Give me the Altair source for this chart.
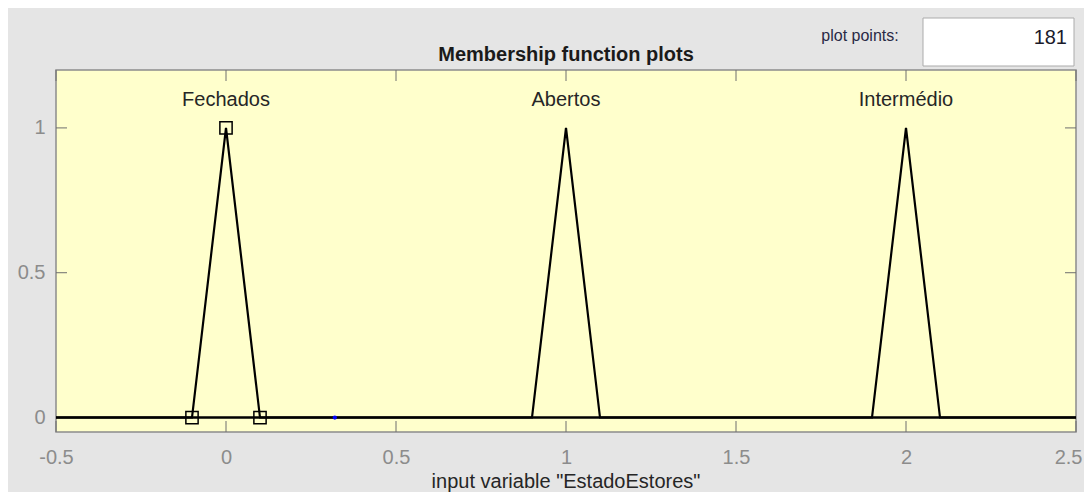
import altair as alt
import pandas as pd

# ---- data ----
mf_names = ["Fechados", "Abertos", "Intermédio"]
mf_a = [-0.1, 0.9, 1.9]
mf_b = [0.0, 1.0, 2.0]
mf_c = [0.1, 1.1, 2.1]
x_range = [-0.5, 2.5]
y_range = [-0.05, 1.2]
x_ticks = [-0.5, 0, 0.5, 1, 1.5, 2, 2.5]
y_ticks = [0, 0.5, 1]
label_level = 1.095
selected_mf = 0
cursor_x = [0.32]
cursor_y = [0.0]
plot_points = "181"
title_text = "Membership function plots"
x_title = 'input variable "EstadoEstores"'

FONT = "Liberation Sans"
FS = 20
W, H = 1020, 362

# ---- build tables ----
rows = []
for i, n in enumerate(mf_names):
    xs_ = [x_range[0], mf_a[i], mf_b[i], mf_c[i], x_range[1]]
    ys_ = [0, 0, 1, 0, 0]
    for k, (xv, yv) in enumerate(zip(xs_, ys_)):
        rows.append({"mf": n, "x": xv, "y": yv, "k": k})
lines_df = pd.DataFrame(rows)

sq_df = pd.DataFrame({
    "x": [mf_a[selected_mf], mf_b[selected_mf], mf_c[selected_mf]],
    "y": [0, 1, 0],
})
lab_df = pd.DataFrame({"mf": mf_names, "x": mf_b, "y": [label_level] * 3})
cur_df = pd.DataFrame({"x": cursor_x, "y": cursor_y})
xt_df = pd.DataFrame({"x": x_ticks})
yt_df = pd.DataFrame({"y": y_ticks})
one = pd.DataFrame({"a": [0]})

xs = alt.Scale(domain=x_range, nice=False, zero=False)
ys = alt.Scale(domain=y_range, nice=False, zero=False)

last_x = x_ticks[-1]
x_axis = alt.Axis(values=x_ticks, ticks=False, domain=False, grid=False,
                  labelColor="#8C8C8C", labelFontSize=FS, labelFont=FONT,
                  labelPadding=15, title=None, labelExpr="datum.value",
                  labelFlush=False, labelBound=False,
                  labelAlign={"condition": {"test": f"datum.value == {last_x}",
                                            "value": "right"},
                              "value": "center"},
                  labelOffset={"condition": {"test": f"datum.value == {last_x}",
                                             "value": 6},
                               "value": 0})
y_axis = alt.Axis(values=y_ticks, ticks=False, domain=False, grid=False,
                  labelColor="#8C8C8C", labelFontSize=FS, labelFont=FONT,
                  labelPadding=11, title=None, labelExpr="datum.value",
                  labelFlush=False)

lines = alt.Chart(lines_df).mark_line(color="black", strokeWidth=2.2).encode(
    x=alt.X("x:Q", scale=xs, axis=x_axis),
    y=alt.Y("y:Q", scale=ys, axis=y_axis),
    detail="mf:N",
    order="k:Q",
)

squares = alt.Chart(sq_df).mark_point(shape="square", size=150, filled=False,
                                      color="black", strokeWidth=1.5,
                                      opacity=1).encode(
    x=alt.X("x:Q", scale=xs), y=alt.Y("y:Q", scale=ys))

labels = alt.Chart(lab_df).mark_text(fontSize=FS, font=FONT, color="#262626",
                                     align="center", baseline="middle").encode(
    x=alt.X("x:Q", scale=xs), y=alt.Y("y:Q", scale=ys), text="mf:N")

cursor = alt.Chart(cur_df).mark_point(shape="circle", size=18, filled=True,
                                      color="#0000FF", opacity=1).encode(
    x=alt.X("x:Q", scale=xs), y=alt.Y("y:Q", scale=ys))

tick_col = "#6E6E6E"
top_ticks = alt.Chart(xt_df).mark_rule(color=tick_col, strokeWidth=1).encode(
    x=alt.X("x:Q", scale=xs), y=alt.value(0), y2=alt.value(11))
bot_ticks = alt.Chart(xt_df).mark_rule(color=tick_col, strokeWidth=1).encode(
    x=alt.X("x:Q", scale=xs), y=alt.value(H - 11), y2=alt.value(H))
left_ticks = alt.Chart(yt_df).mark_rule(color=tick_col, strokeWidth=1).encode(
    y=alt.Y("y:Q", scale=ys), x=alt.value(0), x2=alt.value(11))
right_ticks = alt.Chart(yt_df).mark_rule(color=tick_col, strokeWidth=1).encode(
    y=alt.Y("y:Q", scale=ys), x=alt.value(W - 11), x2=alt.value(W))

title = alt.Chart(one).mark_text(fontSize=FS, font=FONT, fontWeight="bold",
                                 color="#1a1a1a", align="center",
                                 baseline="middle").encode(
    x=alt.value(510), y=alt.value(-15), text=alt.value(title_text))

xtitle = alt.Chart(one).mark_text(fontSize=FS, font=FONT, color="#262626",
                                  align="center", baseline="middle").encode(
    x=alt.value(510), y=alt.value(H + 50), text=alt.value(x_title))

box = alt.Chart(one).mark_rect(fill="white", stroke="#ABABAB",
                               strokeWidth=1).encode(
    x=alt.value(867), x2=alt.value(1018), y=alt.value(-52), y2=alt.value(-4))
box_txt = alt.Chart(one).mark_text(fontSize=FS, font=FONT, color="#1a1a2a",
                                   align="right", baseline="middle").encode(
    x=alt.value(1011), y=alt.value(-32), text=alt.value(plot_points))
pp_txt = alt.Chart(one).mark_text(fontSize=16, font=FONT, color="#2a2a45",
                                  align="center", baseline="middle").encode(
    x=alt.value(804), y=alt.value(-34), text=alt.value("plot points:"))

chart = alt.layer(
    top_ticks, bot_ticks, left_ticks, right_ticks,
    lines, squares, cursor, labels, title, xtitle, box, box_txt, pp_txt,
).properties(
    width=W, height=H,
    background="#E5E5E5",
    autosize=alt.AutoSizeParams(type="none"),
    padding={"left": 48, "top": 62, "right": 8, "bottom": 60},
).configure_view(
    fill="#FFFFCC", stroke="#8C8C8C", strokeWidth=1.5,
)

chart.save("out.html", embed_options={"renderer": "svg", "actions": False})
